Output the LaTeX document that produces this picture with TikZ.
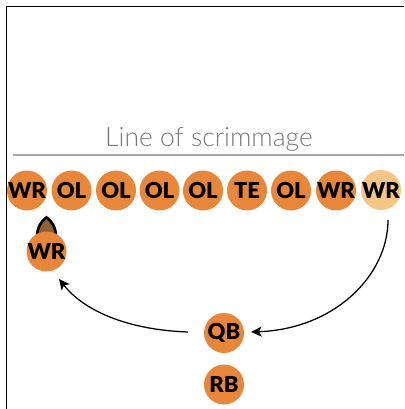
\documentclass[tikz,border=0pt]{standalone}
\usepackage{fontspec}
\setmainfont{Lato}
\newfontfamily\blackfont{Lato Black}
\newfontfamily\lightfont{Lato Light}
\usetikzlibrary{arrows.meta}
\definecolor{playerorange}{HTML}{E8873A}
\definecolor{palewr}{HTML}{F6C685}
\definecolor{ballbrown}{HTML}{8F6235}
\newcommand{\plabel}[1]{\makebox[0pt]{#1}}
\tikzset{
  player/.style={circle,fill=playerorange,minimum size=30pt,inner sep=0pt,font=\blackfont\fontsize{16.5}{16.5}\selectfont,text=black},
  faded/.style={player,fill=palewr},
  route/.style={draw=black,line width=0.95pt,-{Stealth[length=8pt,width=7.5pt,inset=2pt]}}
}
\begin{document}
\begin{tikzpicture}[x=0.75pt,y=-0.75pt]
\useasboundingbox (0,0) rectangle (404,409);
\draw[black,line width=1.15pt] (6.5,409) -- (6.5,6.5) -- (404,6.5);
\node[font=\lightfont\fontsize{19.9}{19.9}\selectfont,text=black!52,anchor=center] (los) at (209,139) {Line of scrimmage};
\coordinate (losl) at (13,155);
\coordinate (losr) at (404,155);
\draw[black!35,line width=1.1pt] (losl) -- (losr);
\draw[black,line width=2pt,fill=ballbrown] (37,237) .. controls (37,228) and (41,221) .. (46.5,217.5) .. controls (52,221) and (56,228) .. (56,237) -- cycle;
\node[player] (p1) at (27,190.5) {\plabel{WR}};
\node[player] (p2) at (71.5,190.5) {\plabel{OL}};
\node[player] (p3) at (116,190.5) {\plabel{OL}};
\node[player] (p4) at (159.5,190.5) {\plabel{OL}};
\node[player] (p5) at (203,190.5) {\plabel{OL}};
\node[player] (p6) at (247,190.5) {\plabel{TE}};
\node[player] (p7) at (291,190.5) {\plabel{OL}};
\node[player] (p8) at (336,190.5) {\plabel{WR}};
\node[faded] (p9) at (381,190) {\plabel{WR}};
\node[player] (wr) at (46.5,251.5) {\plabel{WR}};
\node[player] (qb) at (224,333) {\plabel{QB}};
\node[player] (rb) at (224,384.5) {\plabel{RB}};
\coordinate (s1) at (388,220);
\coordinate (e1) at (251,332);
\coordinate (s2) at (188,332);
\coordinate (e2) at (59,279);
\draw[route] (s1) .. controls (388,275) and (335,329) .. (e1);
\draw[route] (s2) .. controls (130,330) and (85,312) .. (e2);
\end{tikzpicture}
\end{document}
